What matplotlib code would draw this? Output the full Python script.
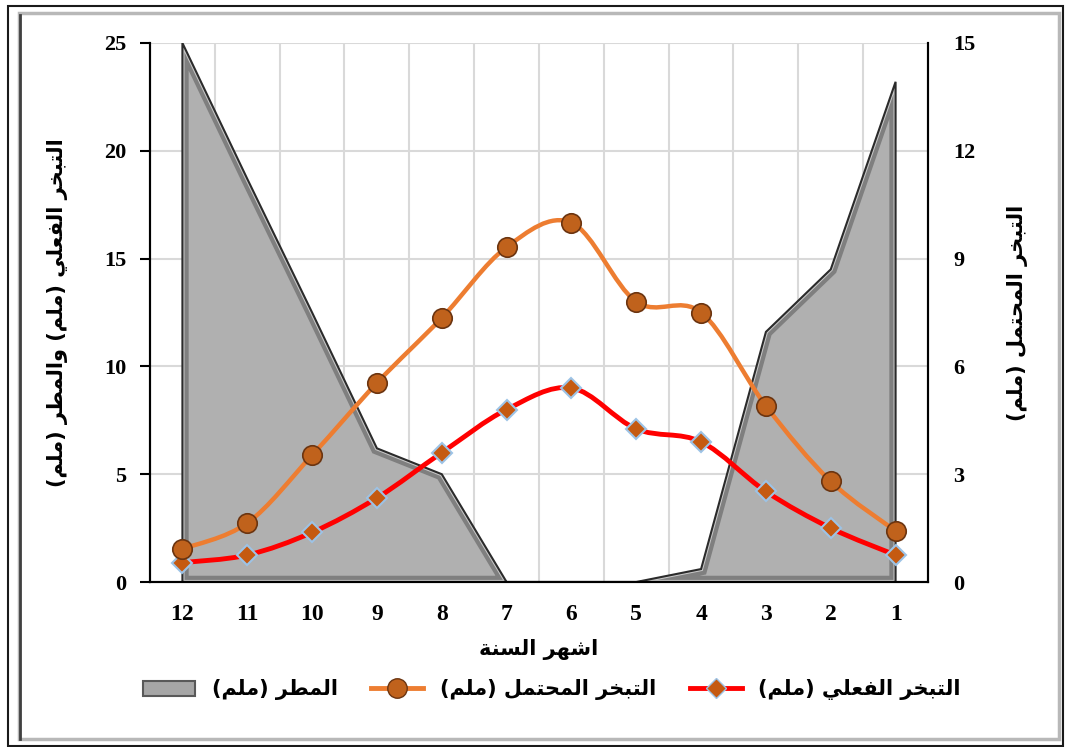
# Rain, actual and potential evaporation by month (Arabic labels)

import matplotlib
matplotlib.use("Agg")
from matplotlib import pyplot as plt
from matplotlib.path import Path
from matplotlib.patches import PathPatch, Rectangle
from matplotlib.lines import Line2D

# DATA
months = [12, 11, 10, 9, 8, 7, 6, 5, 4, 3, 2, 1]
rain = [25.0, 18.7, 12.5, 6.2, 5.0, 0.0, 0.0, 0.0, 0.6, 11.6, 14.5, 23.2]
actual_evap = [0.9, 1.25, 2.3, 3.9, 6.0, 8.0, 9.0, 7.1, 6.5, 4.2, 2.5, 1.25]
potential_evap = [0.92, 1.64, 3.53, 5.54, 7.35, 9.32, 10.0, 7.8, 7.5, 4.9, 2.8, 1.42]

left_label = "التبخر الفعلي (ملم) والمطر (ملم)"
right_label = "التبخر المحتمل (ملم)"
x_label = "اشهر السنة"
rain_name = "المطر (ملم)"
potential_name = "التبخر المحتمل (ملم)"
actual_name = "التبخر الفعلي (ملم)"

# arabic shaping: (isolated, final, initial, medial)
FORMS = {
    "ا": ("\ufe8d", "\ufe8e", None, None),
    "ب": ("\ufe8f", "\ufe90", "\ufe91", "\ufe92"),
    "ة": ("\ufe93", "\ufe94", None, None),
    "ت": ("\ufe95", "\ufe96", "\ufe97", "\ufe98"),
    "ح": ("\ufea1", "\ufea2", "\ufea3", "\ufea4"),
    "خ": ("\ufea5", "\ufea6", "\ufea7", "\ufea8"),
    "ر": ("\ufead", "\ufeae", None, None),
    "س": ("\ufeb1", "\ufeb2", "\ufeb3", "\ufeb4"),
    "ش": ("\ufeb5", "\ufeb6", "\ufeb7", "\ufeb8"),
    "ط": ("\ufec1", "\ufec2", "\ufec3", "\ufec4"),
    "ع": ("\ufec9", "\ufeca", "\ufecb", "\ufecc"),
    "ف": ("\ufed1", "\ufed2", "\ufed3", "\ufed4"),
    "ل": ("\ufedd", "\ufede", "\ufedf", "\ufee0"),
    "م": ("\ufee1", "\ufee2", "\ufee3", "\ufee4"),
    "ن": ("\ufee5", "\ufee6", "\ufee7", "\ufee8"),
    "ه": ("\ufee9", "\ufeea", "\ufeeb", "\ufeec"),
    "و": ("\ufeed", "\ufeee", None, None),
    "ي": ("\ufef1", "\ufef2", "\ufef3", "\ufef4"),
}


def ar(text):
    out = []
    for i, c in enumerate(text):
        if c not in FORMS:
            out.append(c)
            continue
        prev = text[i - 1] if i > 0 else ""
        nxt = text[i + 1] if i + 1 < len(text) else ""
        joins_prev = prev in FORMS and FORMS[prev][2] is not None
        joins_next = nxt in FORMS and FORMS[c][2] is not None
        iso, fin, ini, med = FORMS[c]
        if joins_prev and joins_next:
            out.append(med)
        elif joins_prev:
            out.append(fin)
        elif joins_next:
            out.append(ini)
        else:
            out.append(iso)
    vis = "".join(reversed(out))
    return vis.translate(str.maketrans("()", ")("))


def smooth_path(xs, ys):
    pts = list(zip(xs, ys))
    verts = [pts[0]]
    codes = [Path.MOVETO]
    n = len(pts)
    for i in range(n - 1):
        p0 = pts[i - 1] if i > 0 else pts[i]
        p1 = pts[i]
        p2 = pts[i + 1]
        p3 = pts[i + 2] if i + 2 < n else pts[i + 1]
        c1 = (p1[0] + (p2[0] - p0[0]) / 6, p1[1] + (p2[1] - p0[1]) / 6)
        c2 = (p2[0] - (p3[0] - p1[0]) / 6, p2[1] - (p3[1] - p1[1]) / 6)
        verts += [c1, c2, p2]
        codes += [Path.CURVE4] * 3
    return Path(verts, codes)


SERIF = ["Liberation Serif", "DejaVu Sans"]
AR = ["DejaVu Sans"]

fig = plt.figure(figsize=(10.65, 7.47), dpi=100)
ax = fig.add_axes([150 / 1065, 1 - 582 / 747, 778 / 1065, 539 / 747])
ax2 = ax.twinx()

# rain area with bevel look
ax.set_xlim(12.5, 0.5)
ax.set_ylim(0, 25)
fill = ax.fill_between(months, rain, 0, facecolor="#b0b0b0", edgecolor="none", zorder=2)
poly_path = fill.get_paths()[0]
bevel = PathPatch(poly_path, facecolor="none", edgecolor="#7f7f7f", lw=9, zorder=2.1)
ax.add_patch(bevel)
bevel.set_clip_path(poly_path, ax.transData)
inner = PathPatch(poly_path, facecolor="none", edgecolor="#c8c8c8", lw=3, zorder=2.2)
ax.add_patch(inner)
inner.set_clip_path(poly_path, ax.transData)
ax.add_patch(PathPatch(poly_path, facecolor="none", edgecolor="#2b2b2b", lw=1.5, zorder=2.3))

# actual evaporation (left axis)
ax.add_patch(PathPatch(smooth_path(months, actual_evap), facecolor="none",
                       edgecolor="#ff0000", lw=3.5, zorder=4))
ax.plot(months, actual_evap, ls="none", marker="D", ms=10, mfc="#c55a11",
        mec="#9dc3e6", mew=1.5, zorder=5)

# potential evaporation (right axis)
ax2.set_ylim(0, 15)
ax2.add_patch(PathPatch(smooth_path(months, potential_evap), facecolor="none",
                        edgecolor="#ed7d31", lw=3.2, zorder=4))
ax2.plot(months, potential_evap, ls="none", marker="o", ms=14, mfc="#c0621c",
         mec="#6b3410", mew=1.2, zorder=5)

# grid and axes
ax.set_xticks(months)
ax.set_xticklabels([str(m) for m in months], family=SERIF, weight="bold", fontsize=17)
ax.set_xticks([m + 0.5 for m in months[1:]], minor=True)
ax.set_yticks([0, 5, 10, 15, 20, 25])
ax.set_yticklabels(["0", "5", "10", "15", "20", "25"], family=SERIF, weight="bold", fontsize=16)
ax.grid(axis="y", color="#d9d9d9", lw=1.5, zorder=0)
ax.grid(axis="x", which="minor", color="#d9d9d9", lw=1.5, zorder=0)
ax.set_axisbelow(True)
ax.tick_params(axis="x", which="both", length=0, pad=16)
ax.tick_params(axis="y", length=7, width=1.5, direction="out", pad=10)

ax2.set_yticks([0, 3, 6, 9, 12, 15])
ax2.set_yticklabels(["0", "3", "6", "9", "12", "15"], family=SERIF, weight="bold", fontsize=16)
ax2.tick_params(axis="y", length=0, pad=18)

for a in (ax, ax2):
    a.spines["top"].set_visible(False)
    a.spines["left"].set_linewidth(1.5)
    a.spines["bottom"].set_linewidth(1.5)
    a.spines["right"].set_linewidth(1.5)

ax.set_ylabel(ar(left_label), family=AR, weight="bold", fontsize=15, labelpad=26)
ax2.set_ylabel(ar(right_label), family=AR, weight="bold", fontsize=15, labelpad=23)
ax.set_xlabel(ar(x_label), family=AR, weight="bold", fontsize=15, labelpad=10)

# legend
h_rain = Rectangle((0, 0), 1, 1, facecolor="#a6a6a6", edgecolor="#595959", lw=1.5)
h_pot = Line2D([], [], color="#ed7d31", lw=3.5, marker="o", ms=14, mfc="#c0621c", mec="#6b3410")
h_act = Line2D([], [], color="#ff0000", lw=3.5, marker="D", ms=10, mfc="#c55a11", mec="#9dc3e6")
fig.legend([h_rain, h_pot, h_act], [ar(rain_name), ar(potential_name), ar(actual_name)],
           loc="center", bbox_to_anchor=(552 / 1065, 1 - 690 / 747), ncol=3, frameon=False,
           prop={"family": AR, "weight": "bold", "size": 15}, columnspacing=1.6,
           handlelength=2.5)

# chart frame
fig.patches.append(Rectangle((8 / 1065, 1 / 747), 1055 / 1065, 740 / 747, transform=fig.transFigure,
                             fill=False, edgecolor="#1a1a1a", lw=1.5))
fig.patches.append(Rectangle((19 / 1065, 8 / 747), 1040 / 1065, 726 / 747, transform=fig.transFigure,
                             fill=False, edgecolor="#b8b8b8", lw=2.5))
fig.lines.append(Line2D([20 / 1065, 20 / 1065], [8 / 747, 732 / 747], transform=fig.transFigure,
                        color="#404040", lw=2))

fig.savefig("out.png", dpi=100)
